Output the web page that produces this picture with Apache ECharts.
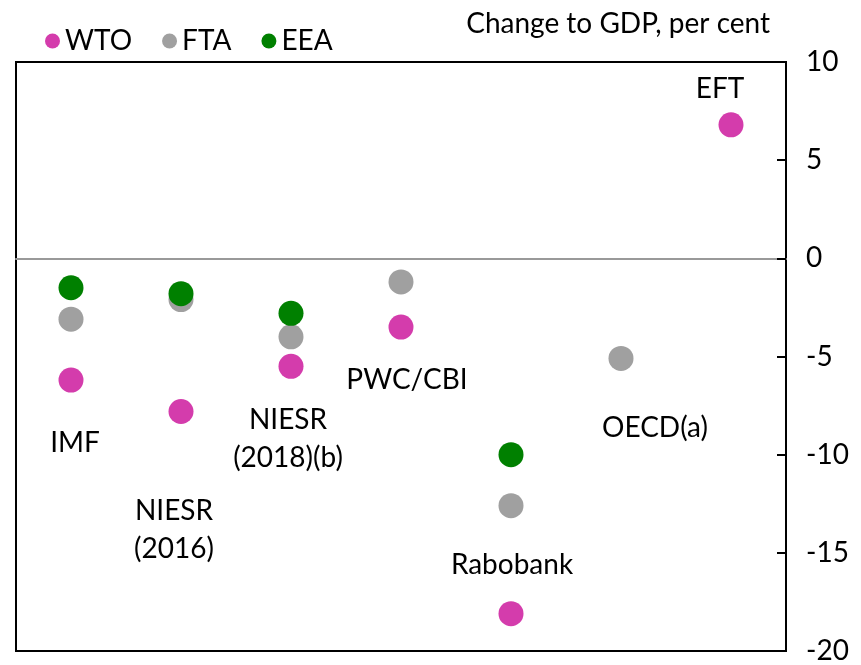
<!DOCTYPE html>
<html>
<head>
<meta charset="utf-8">
<script src="https://cdn.jsdelivr.net/npm/echarts@6/dist/echarts.min.js"></script>
<style>
  html, body { margin: 0; background: #fff; }
  #chart { width: 861px; height: 665px; }
</style>
</head>
<body>
<div id="chart"></div>
<script>
// studies along the x axis
const studies = ["IMF", "NIESR (2016)", "NIESR (2018)(b)", "PWC/CBI", "Rabobank", "OECD(a)", "EFT"];
// change to GDP, per cent, by scenario
const wto = [-6.2, -7.8, -5.5, -3.5, -18.1, null, 6.8];
const fta = [-3.1, -2.1, -4.0, -1.2, -12.6, -5.1, null];
const eea = [-1.5, -1.8, -2.8, null, -10.0, null, null];
// study name labels and the value they sit at
const labelText = ["IMF", "NIESR\n(2016)", "NIESR\n(2018)(b)", "PWC/CBI", "Rabobank", "OECD(a)", "EFT"];
const labelAt = [-9.4, -13.85, -9.2, -6.2, -15.6, -8.65, 8.65];
// y axis ticks
const yTicks = [10, 5, 0, -5, -10, -15, -20];

const FONT = "Lato";
const labelNudge = [4, -7, -3, 6, 1, 34, -11];

let myChart = echarts.init(document.getElementById("chart"));

function dots(name, vals, color) {
  return {
    name: name,
    type: "scatter",
    symbol: "circle",
    symbolSize: 25,
    itemStyle: { color: color, opacity: 1 },
    data: studies.map((s, i) => (vals[i] == null ? null : [s, vals[i]]))
  };
}

myChart.setOption({
  animation: false,
  textStyle: { fontFamily: FONT, color: "#000" },
  title: {
    text: "Change to GDP, per cent",
    right: 86,
    top: 5,
    textStyle: { fontFamily: FONT, fontSize: 28, fontWeight: "normal", color: "#000" }
  },
  legend: {
    data: ["WTO", "FTA", "EEA"],
    left: 40,
    top: 22,
    icon: "circle",
    itemWidth: 15,
    itemHeight: 15,
    itemGap: 30,
    textStyle: { fontFamily: FONT, fontSize: 28, color: "#000" }
  },
  grid: {
    show: true,
    left: 16,
    right: 75,
    top: 62,
    bottom: 14,
    borderColor: "#000",
    borderWidth: 2
  },
  xAxis: {
    type: "category",
    data: studies,
    boundaryGap: true,
    axisLine: { onZero: true, lineStyle: { color: "#999", width: 2 } },
    axisTick: { show: false },
    axisLabel: { show: false },
    splitLine: { show: false }
  },
  yAxis: {
    type: "value",
    position: "right",
    min: yTicks[yTicks.length - 1],
    max: yTicks[0],
    interval: 5,
    axisLine: { show: true, lineStyle: { color: "#000", width: 2 } },
    axisTick: { show: true, inside: true, length: 9, lineStyle: { color: "#000", width: 2 } },
    axisLabel: { margin: 20, align: "left", fontFamily: FONT, fontSize: 28, color: "#000" },
    splitLine: { show: false }
  },
  series: [
    {
      name: "labels",
      type: "scatter",
      silent: true,
      symbolSize: 0,
      z: 1,
      itemStyle: { opacity: 1 },
      label: {
        show: true,
        position: "inside",
        fontFamily: FONT,
        fontSize: 28,
        lineHeight: 38,
        color: "#000",
        align: "center",
        verticalAlign: "middle"
      },
      data: studies.map((s, i) => ({
        value: [s, labelAt[i]],
        label: { formatter: labelText[i], offset: [labelNudge[i], 0] }
      }))
    },
    dots("WTO", wto, "#D43CAC"),
    dots("FTA", fta, "#A0A0A0"),
    dots("EEA", eea, "#008000")
  ]
});
</script>
</body>
</html>
